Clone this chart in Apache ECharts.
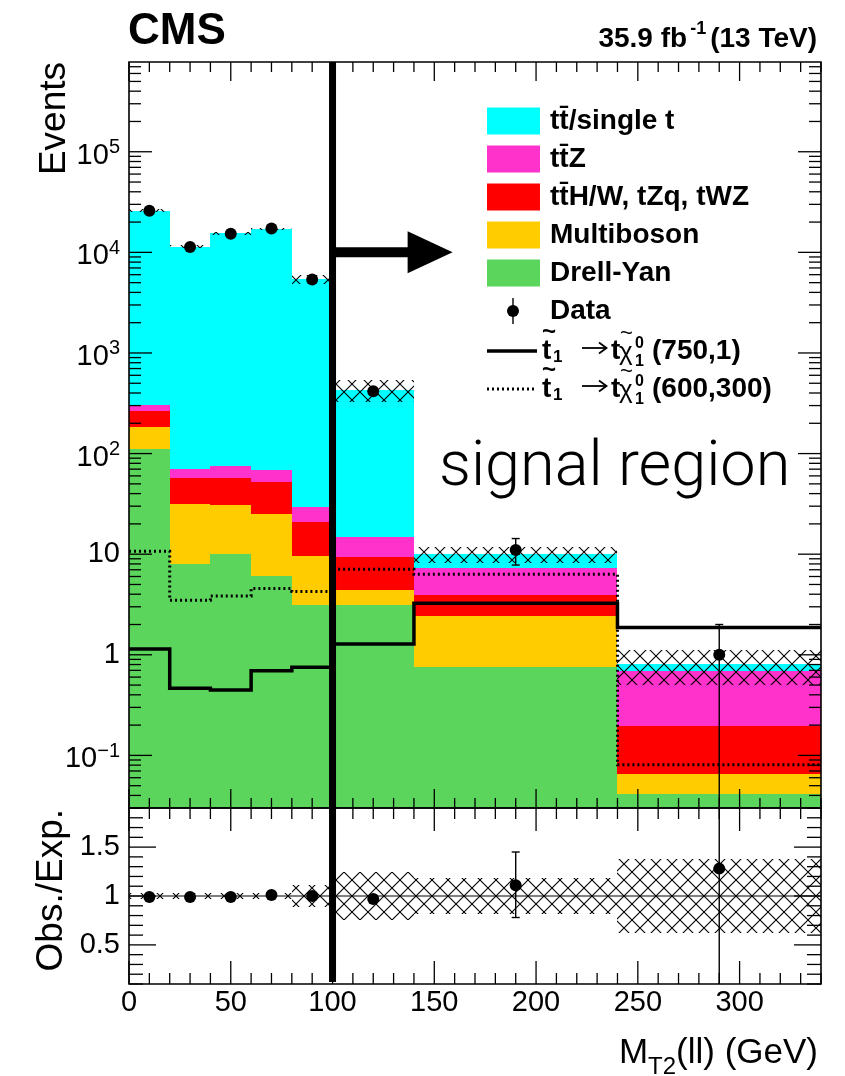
<!DOCTYPE html>
<html>
<head>
<meta charset="utf-8">
<script src="https://cdn.jsdelivr.net/npm/echarts@6/dist/echarts.min.js"></script>
<style>
  html, body { margin: 0; padding: 0; background: #fff; }
  #chart { width: 845px; height: 1076px; }
</style>
</head>
<body>
<div id="chart"></div>
<script>
// ---- M_T2(ll) binning (GeV) ----
const binEdges = [0, 20, 40, 60, 80, 100, 140, 240, 340];

// ---- Background yields per bin (events), listed bottom to top of the stack ----
const drellYan   = [110, 7.9, 10, 6.1, 3.13, 3.13, 0.75, 0.041];
const multiboson = [73, 23.4, 20.5, 18.8, 6.37, 1.25, 1.69, 0.0245];
const ttHWtZq    = [79, 25.3, 27, 27.1, 11.2, 5.0, 1.5, 0.1325];
const ttZ        = [45, 14.4, 18.2, 16, 8.5, 5.6, 3.31, 0.492];
const ttSingleT  = [25700, 11330, 15420, 17030, 5390, 417, 2.75, 0.12];
// relative uncertainty on the total background
const bkgRelUnc  = [0.03, 0.03, 0.03, 0.03, 0.11, 0.245, 0.185, 0.375];

// ---- Observed data ----
const dataCounts = [25900, 11300, 15300, 17300, 5370, 416, 11, 1];
const dataHigh   = [null, null, null, null, null, null, 14.3, 2.0];
const dataLow    = [null, null, null, null, null, null, 7.8, 0];

// ---- Signal models ----
const sigStop750 = [1.14, 0.464, 0.446, 0.694, 0.75, 1.28, 3.26, 1.87];     // (750,1)
const sigStop600 = [10.7, 3.49, 3.85, 4.56, 4.26, 7.1, 6.3, 0.0806];        // (600,300)

// ---- Ratio panel ----
const ratioObs  = [0.99, 0.99, 0.99, 1.01, 1.0, 0.97, 1.11, 1.28];
const ratioHigh = [null, null, null, null, null, null, 1.45, 2.56];
const ratioLow  = [null, null, null, null, null, null, 0.78, 0];

// ---- Axis tick labels ----
const xTickLabels = [0, 50, 100, 150, 200, 250, 300];
const mainYLabels = [[1e5, '10', '5'], [1e4, '10', '4'], [1e3, '10', '3'], [1e2, '10', '2'],
                     [10, '10', ''], [1, '1', ''], [0.1, '10', '\u22121']];
const ratioYLabels = [[1.5, '1.5'], [1, '1'], [0.5, '0.5']];

// ---- Legend ----
const legendNames  = ['tt\u0304/single t', 'tt\u0304Z', 'tt\u0304H/W, tZq, tWZ', 'Multiboson', 'Drell-Yan'];
const signalLabels = ['(750,1)', '(600,300)'];

const FONT = '"Liberation Sans", Arial, Helvetica, sans-serif';
const stackColors = ['#5bd55b', '#ffcc00', '#ff0000', '#ff33cc', '#00ffff'];
const legendColors = ['#00ffff', '#ff33cc', '#ff0000', '#ffcc00', '#5bd55b'];
const Y_MIN = 0.03, Y_MAX = 7.8e5;
const R_MIN = 0.1, R_MAX = 1.9;
const X_MAX = 340;
const SR_EDGE = 100;       // start of the signal region
const ARROW_END = 159;     // arrow tip (GeV) on the 10^4 line

const centers = binEdges.slice(0, -1).map((e, i) => (e + binEdges[i + 1]) / 2);

// cumulative stack boundaries
const components = [drellYan, multiboson, ttHWtZq, ttZ, ttSingleT];
const layers = [];
let running = centers.map(() => 0);
components.forEach(arr => {
  const top = arr.map((v, i) => running[i] + v);
  layers.push({ base: running.slice(), top });
  running = top;
});
const totals = running;

// crosshatch pattern for the uncertainty bands
function makeHatch() {
  const s = 16;
  const c = document.createElement('canvas');
  c.width = s; c.height = s;
  const g = c.getContext('2d');
  g.strokeStyle = '#000';
  g.lineWidth = 1.1;
  g.beginPath();
  g.moveTo(-1, -1); g.lineTo(s + 1, s + 1);
  g.moveTo(s + 1, -1); g.lineTo(-1, s + 1);
  g.stroke();
  return c;
}
const hatchFill = { image: makeHatch(), repeat: 'repeat' };

const measureCtx = document.createElement('canvas').getContext('2d');
function textWidth(str, font) { measureCtx.font = font; return measureCtx.measureText(str).width; }

// ---------- series builders ----------
function binRectSeries(xi, yi, rows, fill, z) {
  return {
    type: 'custom', xAxisIndex: xi, yAxisIndex: yi, z, silent: true, clip: true,
    data: rows, encode: { x: [0, 1], y: [2, 3] },
    renderItem(params, api) {
      const a = api.coord([api.value(0), api.value(3)]);
      const b = api.coord([api.value(1), api.value(2)]);
      const x0 = Math.round(a[0]), x1 = Math.round(b[0]);
      const y0 = Math.round(a[1]), y1 = Math.round(b[1]);
      return { type: 'rect', shape: { x: x0, y: y0, width: x1 - x0, height: y1 - y0 },
               style: { fill, stroke: null } };
    }
  };
}

function stepSeries(values, dash) {
  return {
    type: 'custom', xAxisIndex: 0, yAxisIndex: 0, z: 5, silent: true, clip: true,
    data: [[binEdges[0], values[0]]],
    renderItem(params, api) {
      const pts = [];
      values.forEach((v, i) => {
        pts.push(api.coord([binEdges[i], v]));
        pts.push(api.coord([binEdges[i + 1], v]));
      });
      return { type: 'polyline', shape: { points: pts },
               style: { fill: 'none', stroke: '#000', lineWidth: dash ? 3 : 3.5, lineDash: dash || null } };
    }
  };
}

function errorBarSeries(xi, yi, vals, lows, highs, yLo, yHi) {
  const rows = [];
  vals.forEach((v, i) => { if (highs[i] !== null) rows.push([centers[i], v, Math.max(lows[i], yLo), Math.min(highs[i], yHi), lows[i] >= yLo ? 1 : 0, highs[i] <= yHi ? 1 : 0]); });
  return {
    type: 'custom', xAxisIndex: xi, yAxisIndex: yi, z: 6, silent: true, clip: true,
    data: rows, encode: { x: 0, y: 1 },
    renderItem(params, api) {
      const x = api.value(0);
      const lo = api.coord([x, api.value(2)]);
      const hi = api.coord([x, api.value(3)]);
      const kids = [{ type: 'line', shape: { x1: lo[0], y1: lo[1], x2: hi[0], y2: hi[1] }, style: { stroke: '#000', lineWidth: 1.4 } }];
      if (api.value(4)) kids.push({ type: 'line', shape: { x1: lo[0] - 4, y1: lo[1], x2: lo[0] + 4, y2: lo[1] }, style: { stroke: '#000', lineWidth: 1.4 } });
      if (api.value(5)) kids.push({ type: 'line', shape: { x1: hi[0] - 4, y1: hi[1], x2: hi[0] + 4, y2: hi[1] }, style: { stroke: '#000', lineWidth: 1.4 } });
      return { type: 'group', children: kids };
    }
  };
}

// frame, inward ticks on all four sides and y labels
function frameSeries(xi, yi, cfg) {
  return {
    type: 'custom', xAxisIndex: xi, yAxisIndex: yi, z: 20, silent: true, clip: false,
    data: [[170, cfg.yRef]], encode: { x: 0, y: 1 },
    renderItem(params, api) {
      const cs = params.coordSys;
      const L = cs.x, R = cs.x + cs.width, T = cs.y, B = cs.y + cs.height;
      const kids = [];
      const seg = (x1, y1, x2, y2) => kids.push({ type: 'line', shape: { x1, y1, x2, y2 }, style: { stroke: '#000', lineWidth: 1.3 } });
      cfg.xTicks.forEach(t => {
        const px = api.coord([t.v, cfg.yRef])[0];
        const len = t.major ? cfg.xMajor : cfg.xMinor;
        seg(px, B, px, B - len);
        seg(px, T, px, T + len);
      });
      cfg.yTicks.forEach(t => {
        const py = api.coord([0, t.v])[1];
        const len = t.major ? cfg.yMajor : cfg.yMinor;
        seg(L, py, L + len, py);
        seg(R, py, R - len, py);
      });
      cfg.yLabels.forEach(l => {
        const py = api.coord([0, l.v])[1];
        kids.push({ type: 'text', x: L - 9, y: py + (l.sup !== undefined ? 4 : 0),
          style: l.sup ? {
            text: '{b|' + l.base + '}{s|' + l.sup + '}', align: 'right', verticalAlign: 'middle',
            rich: { b: { fontSize: 29, lineHeight: 36, fontFamily: FONT, fill: '#000' },
                    s: { fontSize: 20, lineHeight: 20, fontFamily: FONT, fill: '#000', verticalAlign: 'top' } }
          } : { text: l.base, align: 'right', verticalAlign: 'middle', fontSize: 29, fontFamily: FONT, fill: '#000' } });
      });
      kids.push({ type: 'rect', shape: { x: L, y: T, width: R - L, height: B - T }, style: { fill: 'none', stroke: '#000', lineWidth: 1.6 } });
      return { type: 'group', children: kids };
    }
  };
}

// tick lists
const xTicks = [];
for (let v = 0; v <= X_MAX; v += 10) xTicks.push({ v, major: v % 50 === 0 });
const mainYTicks = [];
for (let d = -2; d <= 5; d++) for (let m = 1; m <= 9; m++) {
  const v = m * Math.pow(10, d);
  if (v >= Y_MIN * 0.999 && v <= Y_MAX) mainYTicks.push({ v, major: m === 1 });
}
const ratioYTicks = [];
for (let k = 1; k <= 19; k++) ratioYTicks.push({ v: k / 10, major: k % 5 === 0 });

const series = [];
// stacked backgrounds
layers.forEach((ly, k) => {
  const rows = centers.map((c, i) => [binEdges[i], binEdges[i + 1], Math.max(ly.base[i], Y_MIN), ly.top[i]]);
  series.push(binRectSeries(0, 0, rows, stackColors[k], 2));
});
// background uncertainty, main panel
series.push(binRectSeries(0, 0, totals.map((t, i) => [binEdges[i], binEdges[i + 1], t * (1 - bkgRelUnc[i]), t * (1 + bkgRelUnc[i])]), hatchFill, 3));
// signal models
series.push(stepSeries(sigStop600, [2, 3]));
series.push(stepSeries(sigStop750, null));
// data
series.push({ type: 'scatter', xAxisIndex: 0, yAxisIndex: 0, z: 7, silent: true, symbol: 'circle', symbolSize: 12,
              itemStyle: { color: '#000', opacity: 1 }, data: centers.map((c, i) => [c, dataCounts[i]]) });
series.push(errorBarSeries(0, 0, dataCounts, dataLow, dataHigh, Y_MIN, Y_MAX));

// ratio panel
series.push(binRectSeries(1, 1, bkgRelUnc.map((u, i) => [binEdges[i], binEdges[i + 1], 1 - u, 1 + u]), hatchFill, 3));
series.push({ type: 'custom', xAxisIndex: 1, yAxisIndex: 1, z: 4, silent: true, data: [[0, 1]], encode: { x: 0, y: 1 },
  renderItem(params, api) {
    const a = api.coord([0, 1]), b = api.coord([X_MAX, 1]);
    return { type: 'line', shape: { x1: a[0], y1: a[1], x2: b[0], y2: b[1] }, style: { stroke: '#000', lineWidth: 1.2 } };
  } });
series.push({ type: 'scatter', xAxisIndex: 1, yAxisIndex: 1, z: 7, silent: true, symbol: 'circle', symbolSize: 12,
              itemStyle: { color: '#000', opacity: 1 }, data: centers.map((c, i) => [c, ratioObs[i]]) });
series.push(errorBarSeries(1, 1, ratioObs, ratioLow, ratioHigh, R_MIN, R_MAX));

// frames
series.push(frameSeries(0, 0, { yRef: 1, xTicks, xMajor: 19, xMinor: 10, yTicks: mainYTicks, yMajor: 23, yMinor: 12,
  yLabels: mainYLabels.map(l => ({ v: l[0], base: l[1], sup: l[2] || undefined })) }));
series.push(frameSeries(1, 1, { yRef: 1, xTicks, xMajor: 23, xMinor: 11, yTicks: ratioYTicks, yMajor: 27, yMinor: 14,
  yLabels: ratioYLabels.map(l => ({ v: l[0], base: l[1] })) }));

// signal-region boundary and arrow
series.push({ type: 'custom', xAxisIndex: 0, yAxisIndex: 0, z: 25, silent: true, clip: false, data: [[SR_EDGE, 1e4]], encode: { x: 0, y: 1 },
  renderItem(params, api) {
    const top = api.coord([SR_EDGE, Y_MAX]), bot = api.coord([SR_EDGE, Y_MIN]);
    const s = api.coord([SR_EDGE, 1e4]), tip = api.coord([ARROW_END, 1e4]);
    const headLen = 45, headHalf = 21;
    return { type: 'group', children: [
      { type: 'line', shape: { x1: top[0], y1: top[1], x2: bot[0], y2: bot[1] }, style: { stroke: '#000', lineWidth: 7 } },
      { type: 'line', shape: { x1: s[0], y1: s[1], x2: tip[0] - headLen + 1, y2: s[1] }, style: { stroke: '#000', lineWidth: 10 } },
      { type: 'polygon', shape: { points: [[tip[0] - headLen, s[1] - headHalf], [tip[0], s[1]], [tip[0] - headLen, s[1] + headHalf]] }, style: { fill: '#000' } }
    ] };
  } });
series.push({ type: 'custom', xAxisIndex: 1, yAxisIndex: 1, z: 25, silent: true, clip: false, data: [[SR_EDGE, 1]], encode: { x: 0, y: 1 },
  renderItem(params, api) {
    const top = api.coord([SR_EDGE, R_MAX]), bot = api.coord([SR_EDGE, R_MIN]);
    return { type: 'line', shape: { x1: top[0], y1: top[1], x2: bot[0], y2: bot[1] - 2 }, style: { stroke: '#000', lineWidth: 7 } };
  } });

// ---------- text & legend ----------
const graphic = [];
const txt = (x, y, text, size, opts) => graphic.push(Object.assign({ type: 'text', x, y, silent: true, z: 100,
  style: Object.assign({ text, fontSize: size, fontFamily: FONT, fill: '#000', align: 'left', verticalAlign: 'middle' }, (opts && opts.style) || {}) },
  opts && opts.rotation !== undefined ? { rotation: opts.rotation } : {}));

// header
txt(128, 32, 'CMS', 44, { style: { fontWeight: 'bold' } });
{
  const fb = 'bold 28px ' + FONT, fs = 'bold 18px ' + FONT;
  const wA = textWidth('(13 TeV)', fb), wS = textWidth('-1', fs);
  txt(817, 39, '(13 TeV)', 28, { style: { fontWeight: 'bold', align: 'right' } });
  txt(817 - wA - 4, 29, '-1', 18, { style: { fontWeight: 'bold', align: 'right' } });
  txt(817 - wA - 4 - wS - 3, 39, '35.9 fb', 28, { style: { fontWeight: 'bold', align: 'right' } });
}
// axis titles
txt(55, 62, 'Events', 37, { rotation: Math.PI / 2, style: { align: 'right' } });
txt(52, 809, 'Obs./Exp.', 37, { rotation: Math.PI / 2, style: { align: 'right' } });
{
  const wT = textWidth('(ll) (GeV)', '35px ' + FONT), wSub = textWidth('T2', '24px ' + FONT);
  txt(818, 1053, '(ll) (GeV)', 35, { style: { align: 'right' } });
  txt(818 - wT, 1067, 'T2', 24, { style: { align: 'right' } });
  txt(818 - wT - wSub, 1053, 'M', 35, { style: { align: 'right' } });
}
// region label
txt(439, 469, 'signal region', 63, { style: { fontFamily: 'Roboto, "Open Sans", sans-serif', fontWeight: 300 } });

// legend
const rowY = [121, 159, 197, 235, 273, 311, 351, 389];
legendNames.forEach((name, i) => {
  graphic.push({ type: 'rect', silent: true, z: 100, shape: { x: 487, y: rowY[i] - 13.5, width: 53, height: 27 }, style: { fill: legendColors[i] } });
  txt(550, rowY[i], name, 28, { style: { fontWeight: 'bold' } });
});
graphic.push({ type: 'line', silent: true, z: 100, shape: { x1: 513, y1: rowY[5] - 13, x2: 513, y2: rowY[5] + 13 }, style: { stroke: '#000', lineWidth: 1.4 } });
graphic.push({ type: 'circle', silent: true, z: 100, shape: { cx: 513, cy: rowY[5], r: 6 }, style: { fill: '#000' } });
txt(550, rowY[5], 'Data', 28, { style: { fontWeight: 'bold' } });
signalLabels.forEach((lab, j) => {
  const y = rowY[6 + j];
  graphic.push({ type: 'line', silent: true, z: 100, shape: { x1: 487, y1: y, x2: 537, y2: y },
                 style: { stroke: '#000', lineWidth: j === 0 ? 3.5 : 3, lineDash: j === 0 ? null : [2, 3] } });
  txt(542, y, 't', 28, { style: { fontWeight: 'bold' } });
  txt(542, y - 19, '~', 24, { style: { fontWeight: 'bold' } });
  txt(553, y + 6, '1', 17, { style: { fontWeight: 'bold' } });
  // decay arrow
  graphic.push({ type: 'line', silent: true, z: 100, shape: { x1: 582, y1: y - 3, x2: 606, y2: y - 3 }, style: { stroke: '#000', lineWidth: 1.8 } });
  graphic.push({ type: 'polyline', silent: true, z: 100, shape: { points: [[599, y - 8.5], [606.5, y - 3], [599, y + 2.5]] },
                 style: { fill: 'none', stroke: '#000', lineWidth: 1.8 } });
  txt(611, y, 't', 28, { style: { fontWeight: 'bold' } });
  txt(619, y + 2, '\u03c7', 26, {});
  txt(620, y - 17, '~', 22, {});
  txt(635, y - 7, '0', 16, { style: { fontWeight: 'bold' } });
  txt(635, y + 11, '1', 16, { style: { fontWeight: 'bold' } });
  txt(652, y, lab, 28, { style: { fontWeight: 'bold' } });
});

const chart = echarts.init(document.getElementById('chart'), null, { renderer: 'canvas' });
chart.setOption({
  animation: false,
  backgroundColor: '#fff',
  grid: [
    { left: 129, top: 62, width: 692, height: 746, containLabel: false, outerBoundsMode: 'none' },
    { left: 129, top: 808, width: 692, height: 176, containLabel: false, outerBoundsMode: 'none' }
  ],
  xAxis: [
    { gridIndex: 0, type: 'value', min: 0, max: X_MAX, axisLine: { show: false }, axisTick: { show: false }, splitLine: { show: false }, axisLabel: { show: false } },
    { gridIndex: 1, type: 'value', min: 0, max: X_MAX, interval: 50, axisLine: { show: false }, axisTick: { show: false }, splitLine: { show: false },
      axisLabel: { show: true, fontSize: 29, color: '#000', fontFamily: FONT, margin: 4, showMaxLabel: false, hideOverlap: false,
                   formatter: v => (xTickLabels.indexOf(v) >= 0 ? String(v) : '') } }
  ],
  yAxis: [
    { gridIndex: 0, type: 'log', logBase: 10, min: Y_MIN, max: Y_MAX, axisLine: { show: false }, axisTick: { show: false }, splitLine: { show: false }, axisLabel: { show: false } },
    { gridIndex: 1, type: 'value', min: R_MIN, max: R_MAX, axisLine: { show: false }, axisTick: { show: false }, splitLine: { show: false }, axisLabel: { show: false } }
  ],
  series,
  graphic
});
</script>
</body>
</html>
